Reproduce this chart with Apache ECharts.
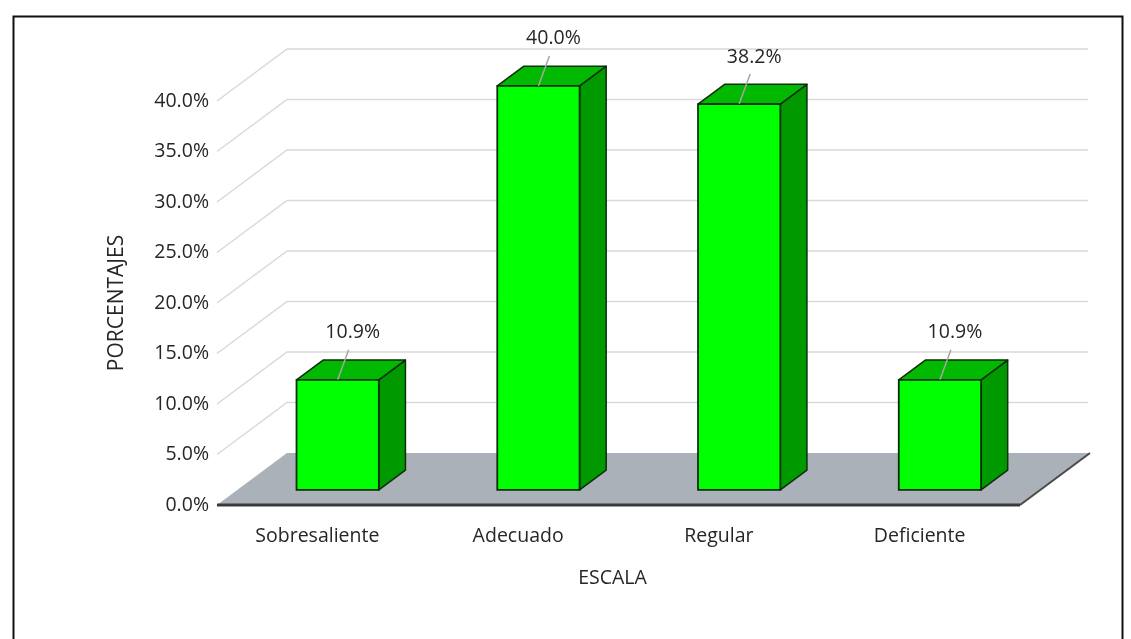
<!DOCTYPE html>
<html>
<head>
<meta charset="utf-8">
<script src="https://cdn.jsdelivr.net/npm/echarts@6/dist/echarts.min.js"></script>
<style>
html,body{margin:0;padding:0;background:#fff;}
#chart{width:1131px;height:639px;}
</style>
</head>
<body>
<div id="chart"></div>
<script>
// ---- data ----
const categories = ['Sobresaliente', 'Adecuado', 'Regular', 'Deficiente'];
const values = [10.9, 40.0, 38.2, 10.9];
const yTicks = [0, 5, 10, 15, 20, 25, 30, 35, 40];
const xAxisTitle = 'ESCALA';
const yAxisTitle = 'PORCENTAJES';

// ---- style constants ----
const FONT = '"Open Sans", "Noto Sans", sans-serif';
const FS = 19.5;
const DX = 70, DY = -52;          // full depth offset of the 3D box (px)
const D1 = 0.29, D2 = 0.67;       // bar depth range (fraction of full depth)
const BAR_W = 0.41;               // bar width fraction of category band
const FRONT = '#00ff00', TOP = '#00b900', SIDE = '#009a00', EDGE = '#0b2e0b';
const GRID_C = '#d9d9d9', FLOOR = '#aab1b8';

const chart = echarts.init(document.getElementById('chart'), null, {renderer: 'canvas'});

function renderBackground(params, api) {
  const band = api.size([1, 0])[0];
  const xl = api.coord([0, 0])[0] - band / 2;
  const xr = api.coord([categories.length - 1, 0])[0] + band / 2;
  const children = [];
  yTicks.forEach(function (v) {
    if (v === 0) return;
    const y = api.coord([0, v])[1];
    children.push({
      type: 'polyline',
      shape: {points: [[xl, y], [xl + DX, y + DY], [xr + DX - 2, y + DY]]},
      style: {stroke: GRID_C, lineWidth: 1.5, fill: null}
    });
  });
  const y0 = api.coord([0, yTicks[0]])[1];
  children.push({
    type: 'polygon',
    shape: {points: [[xl, y0], [xr, y0], [xr + DX, y0 + DY], [xl + DX, y0 + DY]]},
    style: {fill: FLOOR}
  });
  children.push({
    type: 'line',
    shape: {x1: xl, y1: y0, x2: xr, y2: y0},
    style: {stroke: '#3a3a3a', lineWidth: 3}
  });
  children.push({
    type: 'line',
    shape: {x1: xr, y1: y0, x2: xr + DX, y2: y0 + DY},
    style: {stroke: '#4a4a4a', lineWidth: 2}
  });
  return {type: 'group', children: children};
}

function renderBar(params, api) {
  const idx = api.value(0);
  const val = api.value(1);
  const band = api.size([1, 0])[0];
  const c = api.coord([idx, 0]);
  const t = api.coord([idx, val]);
  const w = band * BAR_W;
  const ox = D1 * DX, oy = D1 * DY;
  const dx = (D2 - D1) * DX, dy = (D2 - D1) * DY;
  const x1 = c[0] - w / 2 + ox, x2 = c[0] + w / 2 + ox;
  const yb = c[1] + oy, yt = t[1] + oy;
  const cx = (x1 + x2) / 2;
  return {
    type: 'group',
    children: [
      {type: 'polygon', shape: {points: [[x2, yb], [x2 + dx, yb + dy], [x2 + dx, yt + dy], [x2, yt]]},
       style: {fill: SIDE, stroke: EDGE, lineWidth: 1.5, lineJoin: 'round'}},
      {type: 'polygon', shape: {points: [[x1, yt], [x2, yt], [x2 + dx, yt + dy], [x1 + dx, yt + dy]]},
       style: {fill: TOP, stroke: EDGE, lineWidth: 1.5, lineJoin: 'round'}},
      {type: 'rect', shape: {x: x1, y: yt, width: x2 - x1, height: yb - yt},
       style: {fill: FRONT, stroke: EDGE, lineWidth: 1.8}},
      {type: 'line', shape: {x1: cx, y1: yt, x2: cx + 11, y2: yt - 30},
       style: {stroke: '#a6a6a6', lineWidth: 1.5}},
      {type: 'text', x: cx + 15, y: yt - 47,
       style: {text: val.toFixed(1) + '%', font: FS + 'px ' + FONT, fill: '#262626',
               align: 'center', verticalAlign: 'middle'}}
    ]
  };
}

const option = {
  backgroundColor: '#fff',
  animation: false,
  grid: {left: 217, right: 111, top: 101, bottom: 134},
  xAxis: {
    type: 'category',
    data: categories,
    boundaryGap: true,
    axisLine: {show: false},
    axisTick: {show: false},
    splitLine: {show: false},
    axisLabel: {color: '#262626', fontSize: FS, fontFamily: FONT, margin: 21},
    name: xAxisTitle,
    nameLocation: 'middle',
    nameGap: 63,
    nameTextStyle: {color: '#262626', fontSize: FS, fontFamily: FONT, padding: [0, 12, 0, 0]}
  },
  yAxis: {
    type: 'value',
    min: 0, max: 40, interval: 5,
    axisLine: {show: false},
    axisTick: {show: false},
    splitLine: {show: false},
    axisLabel: {color: '#262626', fontSize: FS, fontFamily: FONT, margin: 8,
                formatter: function (v) { return v.toFixed(1) + '%'; }},
    name: yAxisTitle,
    nameLocation: 'middle',
    nameRotate: 90,
    nameGap: 89,
    nameTextStyle: {color: '#262626', fontSize: 21, fontFamily: FONT}
  },
  graphic: [{
    type: 'rect', left: 11, top: 14, silent: true,
    shape: {width: 1109, height: 640},
    style: {fill: null, stroke: '#111', lineWidth: 2}
  }],
  series: [
    {type: 'custom', renderItem: renderBackground, data: [[0, 0]], silent: true, z: 1},
    {type: 'custom', renderItem: renderBar, silent: true, z: 2,
     data: values.map(function (v, i) { return [i, v]; })}
  ]
};
chart.setOption(option);
</script>
</body>
</html>
